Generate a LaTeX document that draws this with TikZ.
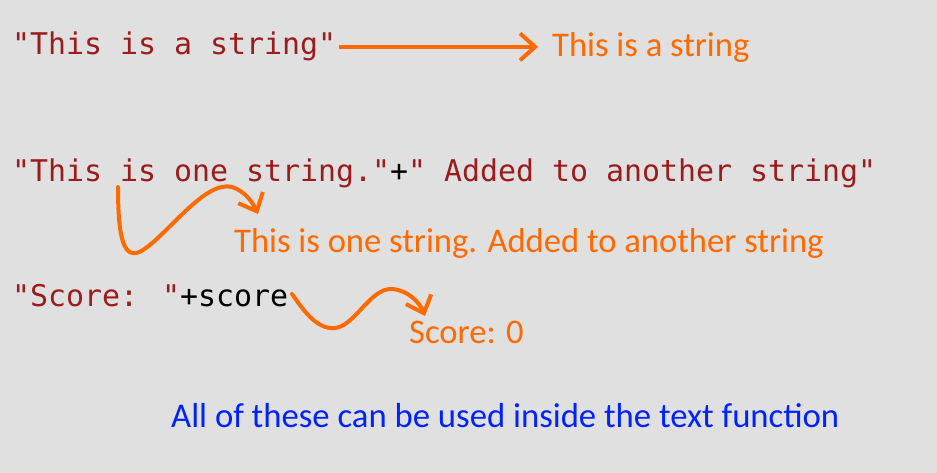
\documentclass[tikz,border=0pt]{standalone}
\usepackage{fontspec}
\usepackage{tikz}
\usetikzlibrary{
  arrows.meta,
  positioning
}
\newfontfamily\codefont{DejaVu Sans Mono}
\newfontfamily\slidefont{Carlito}
\definecolor{strred}{RGB}{155,28,28}
\definecolor{arrorange}{RGB}{255,106,0}
\definecolor{noteblue}{RGB}{0,34,255}
\definecolor{slidegray}{RGB}{224,224,224}

\begin{document}
\begin{tikzpicture}[
      x=1pt, y=-1pt,
      code/.style={
         anchor=base west,
         inner sep=0pt,
         text=strred,
         font=\codefont\fontsize{29.9}{36}\selectfont
      },
      result/.style={
         anchor=base west,
         inner sep=0pt,
         text=arrorange,
         font=\slidefont\fontsize{34.6}{40}\selectfont
      },
      note/.style={
         anchor=base west,
         inner sep=0pt,
         text=noteblue,
         font=\slidefont\fontsize{34.7}{40}\selectfont
      },
      tip/.style={
         -{Straight Barb[length=15pt,width=27pt]},
         draw=arrorange, line width=4pt
      },
      wiggle/.style={tip, line cap=round}
    ]
    \fill[slidegray] (0,0) rectangle (937,473);
    \useasboundingbox (0,0) rectangle (937,473);
    % code lines
    \node (str1) [code] at (12,55) {"This is a string"};
    \node (str2) [code] at (12,182) {"This is one string."\textcolor{black}{+}" Added to another string"};
    \node (str3) [code] at (12,306) {"Score: "\textcolor{black}{+score}};
    % what they print
    \node (out1) [result] at (552,57) {This is a string};
    \node (out2) [result] at (234,252) {This is one string. Added to another string};
    \node (out3) [result] at (409,343) {Score: 0};
    \node (remark) [note] at (171,427) {All of these can be used inside the text function};
    % connectors
    \coordinate (s2) at (118,187);
    \coordinate (e2) at (258,214);
    \coordinate (s3) at (292,294);
    \coordinate (e3) at (425,316);
    \draw[tip] ([xshift=3pt]str1.east) -- ([xshift=-14pt]str1.east -| out1.west);
    \draw[wiggle] (s2) .. controls (118,240) and (124,262) .. (143,250)
                       .. controls (168,234) and (205,180) .. (232,187)
                       .. controls (245,191) and (253,203) .. (e2);
    \draw[wiggle] (s3) .. controls (302,308) and (316,330) .. (335,328)
                       .. controls (355,326) and (370,288) .. (392,289)
                       .. controls (408,290) and (420,303) .. (e3);
\end{tikzpicture}
\end{document}
